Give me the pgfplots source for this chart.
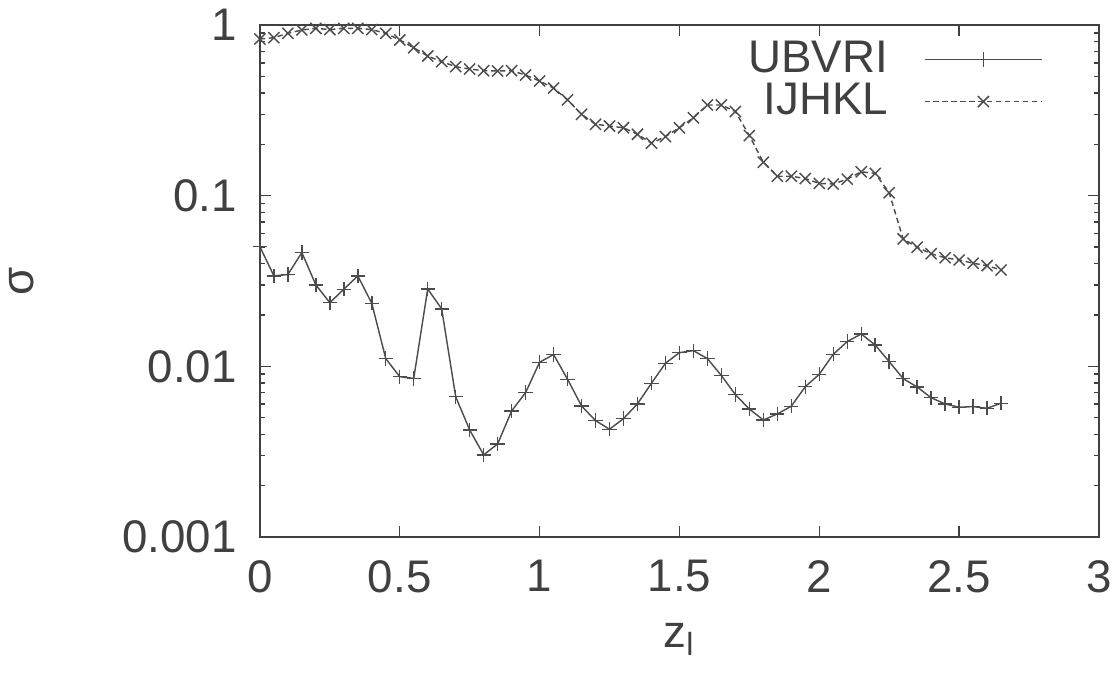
\documentclass[border=0pt]{standalone}
\usepackage{fontspec}
\setmainfont{Liberation Sans}
\usepackage{pgfplots}
\pgfplotsset{compat=1.18}

\definecolor{ink}{gray}{0.25}
\definecolor{curve}{gray}{0.3}

\begin{document}
\begin{tikzpicture}[font=\fontsize{12.8}{14}\selectfont, color=ink]
\begin{axis}[
    scale only axis,
    width=235pt, height=143.4pt,
    xmin=0, xmax=3,
    ymode=log, ymin=0.001, ymax=1,
    xtick={0,0.5,1,1.5,2,2.5,3},
    xticklabels={0,0.5,1,1.5,2,2.5,3},
    ytick={0.001,0.01,0.1,1},
    yticklabels={0.001,0.01,0.1,1},
    /pgf/number format/assume math mode=true,
    tick align=inside,
    major tick length=3pt, minor tick length=1.5pt,
    axis line style={ink, line width=0.5pt},
    every tick/.style={ink, line width=0.4pt},
    xticklabel style={yshift=-3pt},
    yticklabel style={xshift=-3pt},
    xlabel={z\textsubscript{l}},
    ylabel={σ},
    xlabel style={at={(axis description cs:0.5,-0.2)}, anchor=center},
    ylabel style={at={(axis description cs:-0.284,0.5)}, anchor=center},
    legend plot pos=right,
    legend cell align=right,
    legend style={draw=none, fill=none, at={(axis description cs:0.947,0.998)},
        anchor=north east, row sep=-2.5pt, column sep=8pt,
        nodes={inner sep=2pt, text=ink}},
    legend image code/.code={
        \draw[mark repeat=2, mark phase=2, #1]
        plot coordinates {(0pt,0pt) (16.5pt,0pt) (33pt,0pt)};},
]

\addplot[curve, line width=0.4pt, mark=+, mark size=2pt]
    coordinates {
    (0,0.0502)(0.05,0.0339)(0.1,0.0345)(0.15,0.0464)(0.2,0.0300)(0.25,0.0236)
    (0.3,0.0283)(0.35,0.0339)(0.4,0.0234)(0.45,0.0111)(0.5,0.0087)(0.55,0.0085)
    (0.6,0.0284)(0.65,0.0217)(0.7,0.00664)(0.75,0.00424)(0.8,0.00303)(0.85,0.00351)
    (0.9,0.00548)(0.95,0.00702)(1.0,0.01057)(1.05,0.01172)(1.1,0.0084)(1.15,0.00586)
    (1.2,0.00481)(1.25,0.00428)(1.3,0.00494)(1.35,0.00603)(1.4,0.00796)(1.45,0.01043)
    (1.5,0.01203)(1.55,0.01236)(1.6,0.0111)(1.65,0.00883)(1.7,0.00683)(1.75,0.00562)
    (1.8,0.00485)(1.85,0.00526)(1.9,0.00584)(1.95,0.0076)(2.0,0.00899)(2.05,0.01177)
    (2.1,0.01396)(2.15,0.01548)(2.2,0.01334)(2.25,0.01066)(2.3,0.00847)(2.35,0.00757)
    (2.4,0.00655)(2.45,0.00602)(2.5,0.00576)(2.55,0.00581)(2.6,0.00568)(2.65,0.00608)
    };
\addlegendentry{UBVRI}

\addplot[curve, line width=0.4pt, dash pattern=on 1.5pt off 1pt,
    mark=x, mark size=2.2pt, mark options={solid}]
    coordinates {
    (0,0.828)(0.05,0.843)(0.1,0.894)(0.15,0.935)(0.2,0.956)(0.25,0.94)
    (0.3,0.956)(0.35,0.956)(0.4,0.94)(0.45,0.894)(0.5,0.817)(0.55,0.736)
    (0.6,0.658)(0.65,0.610)(0.7,0.570)(0.75,0.552)(0.8,0.540)(0.85,0.538)
    (0.9,0.540)(0.95,0.509)(1.0,0.470)(1.05,0.427)(1.1,0.364)(1.15,0.300)
    (1.2,0.262)(1.25,0.256)(1.3,0.250)(1.35,0.229)(1.4,0.203)(1.45,0.222)
    (1.5,0.250)(1.55,0.286)(1.6,0.340)(1.65,0.340)(1.7,0.311)(1.75,0.225)
    (1.8,0.157)(1.85,0.130)(1.9,0.130)(1.95,0.126)(2.0,0.118)(2.05,0.117)
    (2.1,0.125)(2.15,0.138)(2.2,0.135)(2.25,0.104)(2.3,0.0558)(2.35,0.0499)
    (2.4,0.0457)(2.45,0.0433)(2.5,0.0420)(2.55,0.0402)(2.6,0.0389)(2.65,0.0367)
    };
\addlegendentry{IJHKL}
\end{axis}
\path (current axis.south west) ++(-72.8pt,-39.2pt) coordinate (bbsw);
\path (current axis.north east) ++(4.5pt,7pt) coordinate (bbne);
\pgfresetboundingbox
\path[use as bounding box] (bbsw) rectangle (bbne);
\end{tikzpicture}
\end{document}
